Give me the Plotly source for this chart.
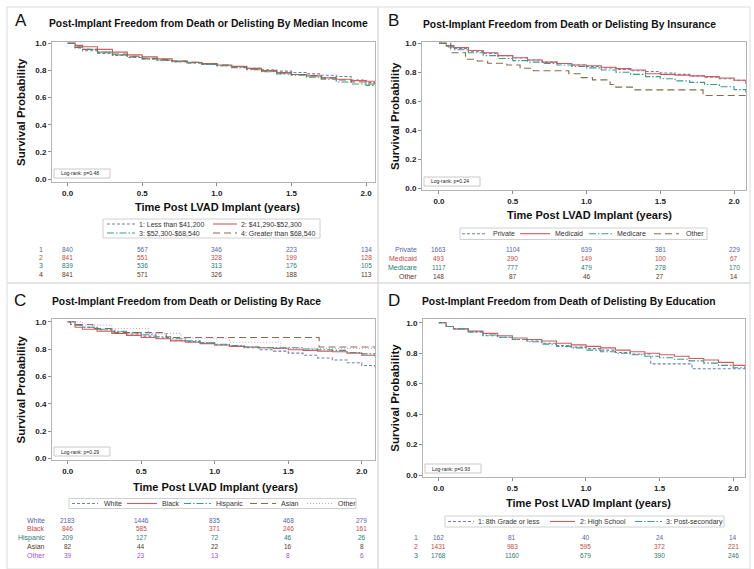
import plotly.graph_objects as go

W, H = 754, 569
FONT = "Liberation Sans"

# ---------------- DATA ----------------
grid_a = [0, 0.05, 0.1, 0.2, 0.3, 0.4, 0.5, 0.6, 0.7, 0.8, 0.9, 1.0, 1.1, 1.2, 1.3, 1.4, 1.5, 1.6, 1.7, 1.8, 1.9, 2.0, 2.06]
a_inc1 = [1.0, 0.965, 0.945, 0.925, 0.91, 0.895, 0.885, 0.875, 0.865, 0.855, 0.845, 0.835, 0.825, 0.815, 0.805, 0.795, 0.785, 0.775, 0.765, 0.755, 0.73, 0.71, 0.70]
a_inc2 = [1.0, 0.985, 0.975, 0.955, 0.935, 0.915, 0.9, 0.885, 0.87, 0.86, 0.85, 0.84, 0.83, 0.815, 0.8, 0.785, 0.77, 0.76, 0.745, 0.735, 0.725, 0.72, 0.72]
a_inc3 = [1.0, 0.975, 0.955, 0.935, 0.915, 0.9, 0.885, 0.875, 0.865, 0.855, 0.845, 0.835, 0.82, 0.805, 0.79, 0.775, 0.765, 0.75, 0.735, 0.715, 0.7, 0.69, 0.685]
a_inc4 = [1.0, 0.97, 0.955, 0.935, 0.92, 0.905, 0.89, 0.88, 0.87, 0.86, 0.85, 0.84, 0.825, 0.81, 0.795, 0.78, 0.77, 0.76, 0.745, 0.73, 0.715, 0.70, 0.695]
a_names = ["1: Less than $41,200", "2: $41,290-$52,300", "3: $52,300-$68,540", "4: Greater than $68,540"]
a_row_labels = ["1", "2", "3", "4"]
a_risk = [[840, 567, 346, 223, 134], [841, 551, 328, 199, 128], [839, 536, 313, 176, 105], [841, 571, 326, 188, 113]]

grid_b = [0, 0.05, 0.1, 0.2, 0.3, 0.4, 0.5, 0.6, 0.7, 0.8, 0.9, 1.0, 1.1, 1.2, 1.3, 1.4, 1.5, 1.6, 1.7, 1.8, 1.9, 2.0, 2.08]
b_private = [1.0, 0.98, 0.965, 0.945, 0.93, 0.915, 0.9, 0.885, 0.87, 0.86, 0.85, 0.84, 0.83, 0.82, 0.81, 0.805, 0.795, 0.785, 0.775, 0.765, 0.755, 0.745, 0.73]
b_medicaid = [1.0, 0.985, 0.97, 0.95, 0.935, 0.915, 0.9, 0.885, 0.87, 0.86, 0.85, 0.845, 0.835, 0.825, 0.815, 0.79, 0.785, 0.78, 0.775, 0.77, 0.76, 0.745, 0.72]
b_medicare = [1.0, 0.975, 0.955, 0.935, 0.915, 0.895, 0.88, 0.87, 0.86, 0.85, 0.84, 0.83, 0.815, 0.8, 0.785, 0.77, 0.755, 0.74, 0.73, 0.715, 0.7, 0.68, 0.66]
b_other_t = [0, 0.08, 0.18, 0.26, 0.33, 0.46, 0.55, 0.64, 0.88, 0.96, 1.04, 1.16, 1.19, 1.31, 1.79, 2.08]
b_other = [1.0, 0.935, 0.89, 0.878, 0.862, 0.85, 0.828, 0.81, 0.79, 0.763, 0.747, 0.715, 0.697, 0.678, 0.639, 0.639]
b_names = ["Private", "Medicaid", "Medicare", "Other"]
b_risk = [[1663, 1104, 639, 381, 229], [493, 290, 149, 100, 67], [1117, 777, 479, 278, 170], [148, 87, 46, 27, 14]]

grid_c = [0, 0.05, 0.1, 0.2, 0.3, 0.4, 0.5, 0.6, 0.7, 0.8, 0.9, 1.0, 1.1, 1.2, 1.3, 1.4, 1.5, 1.6, 1.7, 1.8, 1.9, 2.0, 2.09]
c_white = [1.0, 0.975, 0.96, 0.94, 0.925, 0.91, 0.895, 0.88, 0.865, 0.855, 0.845, 0.83, 0.82, 0.81, 0.795, 0.785, 0.77, 0.755, 0.735, 0.72, 0.70, 0.68, 0.66]
c_black = [1.0, 0.96, 0.945, 0.93, 0.915, 0.9, 0.885, 0.875, 0.86, 0.85, 0.84, 0.83, 0.82, 0.815, 0.81, 0.805, 0.795, 0.79, 0.785, 0.78, 0.77, 0.755, 0.745]
c_hispanic = [1.0, 0.975, 0.96, 0.945, 0.93, 0.92, 0.905, 0.89, 0.875, 0.86, 0.845, 0.835, 0.825, 0.815, 0.81, 0.81, 0.81, 0.80, 0.795, 0.79, 0.775, 0.765, 0.76]
c_asian_t = [0, 0.02, 0.17, 0.32, 0.67, 1.71, 2.09]
c_asian = [1.0, 0.98, 0.95, 0.92, 0.885, 0.815, 0.815]
c_other_t = [0, 0.1, 0.3, 0.55, 0.77, 1.1, 1.45, 2.09]
c_other = [1.0, 0.975, 0.95, 0.915, 0.88, 0.85, 0.805, 0.805]
c_names = ["White", "Black", "Hispanic", "Asian", "Other"]
c_risk = [[2183, 1446, 835, 468, 279], [846, 585, 371, 246, 161], [209, 127, 72, 46, 26], [82, 44, 22, 16, 8], [39, 23, 13, 8, 6]]

grid_d = [0, 0.05, 0.1, 0.2, 0.3, 0.4, 0.5, 0.6, 0.7, 0.8, 0.9, 1.0, 1.1, 1.2, 1.3, 1.4, 1.5, 1.6, 1.7, 1.8, 1.9, 2.0, 2.08]
d_grade_t = [0, 0.05, 0.1, 0.2, 0.3, 0.4, 0.5, 0.6, 0.7, 0.8, 0.9, 1.0, 1.1, 1.2, 1.3, 1.44, 1.72, 2.08]
d_grade = [1.0, 0.975, 0.96, 0.94, 0.915, 0.905, 0.89, 0.88, 0.865, 0.85, 0.84, 0.83, 0.82, 0.805, 0.795, 0.73, 0.698, 0.698]
d_high = [1.0, 0.975, 0.96, 0.945, 0.93, 0.915, 0.9, 0.89, 0.88, 0.865, 0.855, 0.845, 0.835, 0.82, 0.81, 0.80, 0.79, 0.78, 0.765, 0.755, 0.74, 0.72, 0.705]
d_post = [1.0, 0.975, 0.96, 0.94, 0.92, 0.905, 0.89, 0.875, 0.86, 0.845, 0.835, 0.82, 0.81, 0.80, 0.79, 0.78, 0.77, 0.76, 0.75, 0.735, 0.72, 0.705, 0.695]
d_names = ["1: 8th Grade or less", "2: High School", "3: Post-secondary"]
d_row_labels = ["1", "2", "3"]
d_risk = [[162, 81, 40, 24, 14], [1431, 983, 595, 372, 221], [1768, 1160, 679, 390, 246]]

risk_times = [0, 0.5, 1.0, 1.5, 2.0]
x_ticks = [0, 0.5, 1.0, 1.5, 2.0]
y_ticks = [0, 0.2, 0.4, 0.6, 0.8, 1.0]
pvals = ["Log-rank: p=0.48", "Log-rank: p=0.24", "Log-rank: p=0.29", "Log-rank: p=0.93"]
titles = ["Post-Implant Freedom from Death or Delisting By Median Income",
          "Post-Implant Freedom from Death or Delisting By Insurance",
          "Post-Implant Freedom from Death or Delisting By Race",
          "Post-Implant Freedom from Death of Delisting By Education"]
letters = ["A", "B", "C", "D"]

# ---------------- STYLE ----------------
LINE_COL = ["#6f7eb3", "#d05b5b", "#3a9a8f", "#8a6a4a", "#c9a0e6"]
TEXT_COL = ["#5565a8", "#c44a40", "#1f7d73", "#5a3a1a", "#a24fe0"]
DASH = ["3px,2px", "solid", "7px,2px,1.5px,2px", "7px,4px", "1px,2px"]


def X(px):
    return px / W


def Y(py):
    return 1 - py / H


def note(text, x, y, size, color="#111", weight="normal", xanchor="center", xref="paper", angle=0):
    return dict(text=text, x=x, y=y, xref=xref, yref="paper", xanchor=xanchor, yanchor="middle",
                textangle=angle, showarrow=False, borderpad=0,
                font=dict(family=FONT, size=size, color=color, weight=weight))


fig = go.Figure()
shapes = []
ann = []

panels = [
    dict(xd=(52, 375), yd=(42, 182), xr=(-0.105, 2.06), yr=(-0.022, 1.0096)),
    dict(xd=(422, 746), yd=(42, 190), xr=(-0.115, 2.081), yr=(-0.0138, 1.009)),
    dict(xd=(52, 375), yd=(319, 460), xr=(-0.107, 2.09), yr=(-0.012, 1.02)),
    dict(xd=(423, 745), yd=(318.5, 477), xr=(-0.107, 2.08), yr=(-0.013, 1.028)),
]

series = [
    [(grid_a, a_inc1), (grid_a, a_inc2), (grid_a, a_inc3), (grid_a, a_inc4)],
    [(grid_b, b_private), (grid_b, b_medicaid), (grid_b, b_medicare), (b_other_t, b_other)],
    [(grid_c, c_white), (grid_c, c_black), (grid_c, c_hispanic), (c_asian_t, c_asian), (c_other_t, c_other)],
    [(d_grade_t, d_grade), (grid_d, d_high), (grid_d, d_post)],
]
names = [a_names, b_names, c_names, d_names]

layout_axes = {}
for i, p in enumerate(panels):
    sfx = "" if i == 0 else str(i + 1)
    xa, ya = "x" + sfx, "y" + sfx
    common = dict(showline=True, linecolor="#b4b4b4", linewidth=1, mirror=True,
                  ticks="outside", ticklen=3, tickcolor="#8c8c8c", showgrid=False,
                  zeroline=False, automargin=False,
                  tickfont=dict(family=FONT, size=8, color="#222", weight="bold"),
                  tickformat=".1f", fixedrange=True)
    layout_axes["xaxis" + sfx] = dict(common, domain=[X(p["xd"][0]), X(p["xd"][1])],
                                      range=list(p["xr"]), anchor=ya, tickvals=x_ticks)
    layout_axes["yaxis" + sfx] = dict(common, domain=[Y(p["yd"][1]), Y(p["yd"][0])],
                                      range=list(p["yr"]), anchor=xa, tickvals=y_ticks)
    for k, (t, s) in enumerate(series[i]):
        fig.add_trace(go.Scatter(x=t, y=s, mode="lines", line_shape="hv",
                                 line=dict(color=LINE_COL[k], width=1.1, dash=DASH[k]),
                                 name=names[i][k], xaxis=xa, yaxis=ya, showlegend=False))

# ----- panel borders -----
for (x0, y0, x1, y1) in [(7, 7, 378, 283), (378, 7, 750, 283), (7, 283, 378, 569), (378, 283, 750, 569)]:
    shapes.append(dict(type="rect", xref="paper", yref="paper", x0=X(x0), x1=X(x1), y0=Y(y1), y1=Y(y0),
                       line=dict(color="#dcdcdc", width=1)))

# ----- titles, letters, axis titles -----
title_pos = [(208, 23), (569, 24), (186, 302), (569, 301)]
letter_pos = [(21, 21), (393, 21), (20, 300), (394, 300)]
ytitle_x = [21, 395, 20, 395]
xtitle_pos = [(217, 207), (589, 215), (215, 487), (588, 503)]
for i in range(4):
    p = panels[i]
    ann.append(note(titles[i], X(title_pos[i][0]), Y(title_pos[i][1]), 10.3, weight="bold"))
    ann.append(note(letters[i], X(letter_pos[i][0]), Y(letter_pos[i][1]), 17))
    ymid = (p["yd"][0] + p["yd"][1]) / 2
    ann.append(note("Survival Probability", X(ytitle_x[i]), Y(ymid), 11.5, weight="bold", angle=-90))
    ann.append(note("Time Post LVAD Implant (years)", X(xtitle_pos[i][0]), Y(xtitle_pos[i][1]), 11,
                    weight="bold"))
    bx0 = p["xd"][0] + 2
    by1 = p["yd"][1] - 4
    shapes.append(dict(type="rect", xref="paper", yref="paper", x0=X(bx0), x1=X(bx0 + 56),
                       y0=Y(by1), y1=Y(by1 - 9), line=dict(color="#c8c8c8", width=1), fillcolor="white"))
    ann.append(note(pvals[i], X(bx0 + 6), Y(by1 - 4.5), 5, color="#222", xanchor="left"))

# ----- legends (drawn) -----
legend_boxes = [(103, 219, 320, 238), (460, 228, 707, 239.5), (69, 498.5, 356, 508.5), (445, 516, 724, 527)]
legend_items = [
    [(107, 135, 138, 224), (213, 237, 240, 224), (107, 135, 138, 233), (213, 237, 240, 233)],
    [(462, 487, 492, 233.7), (520, 550, 554, 233.7), (589, 612, 616, 233.7), (654, 679, 685, 233.7)],
    [(72, 98, 103, 503.5), (127, 157, 161, 503.5), (184, 211, 215, 503.5), (250, 276, 280, 503.5), (307, 333, 337, 503.5)],
    [(448, 474, 477, 521.5), (550, 575, 579, 521.5), (635, 662, 665, 521.5)],
]
for i in range(4):
    bx0, by0, bx1, by1 = legend_boxes[i]
    shapes.append(dict(type="rect", xref="paper", yref="paper", x0=X(bx0), x1=X(bx1), y0=Y(by1), y1=Y(by0),
                       line=dict(color="#d0d0d0", width=1)))
    for k, (lx0, lx1, tx, ty) in enumerate(legend_items[i]):
        shapes.append(dict(type="line", xref="paper", yref="paper", x0=X(lx0), x1=X(lx1), y0=Y(ty), y1=Y(ty),
                           line=dict(color=LINE_COL[k], width=1.1, dash=DASH[k])))
        ann.append(note(names[i][k], X(tx), Y(ty), 7, color="#333", xanchor="left"))

# ----- risk tables -----
row_labels = [a_row_labels, b_names, c_names, d_row_labels]
risks = [a_risk, b_risk, c_risk, d_risk]
row_y = [[249.3, 257.5, 265.8, 274.2], [250, 258.7, 267.3, 276], [520, 528.8, 537.6, 546.3, 555], [537.5, 546.3, 555]]
label_x = [44, 418, 46, 419]
for i in range(4):
    sfx = "" if i == 0 else str(i + 1)
    for r, lab in enumerate(row_labels[i]):
        ann.append(note(lab, X(label_x[i]), Y(row_y[i][r]), 7, color=TEXT_COL[r], xanchor="right"))
        for t, v in zip(risk_times, risks[i][r]):
            ann.append(note(str(v), t, Y(row_y[i][r]), 6.5, color=TEXT_COL[r], xref="x" + sfx))

fig.update_layout(template="none", width=W, height=H, margin=dict(l=0, r=0, t=0, b=0, pad=0),
                  paper_bgcolor="white", plot_bgcolor="white", showlegend=False,
                  shapes=shapes, annotations=ann, **layout_axes)
fig.write_html("out.html", config={"displayModeBar": False},
               post_script="document.body.style.margin='0';document.body.style.overflow='hidden';")
